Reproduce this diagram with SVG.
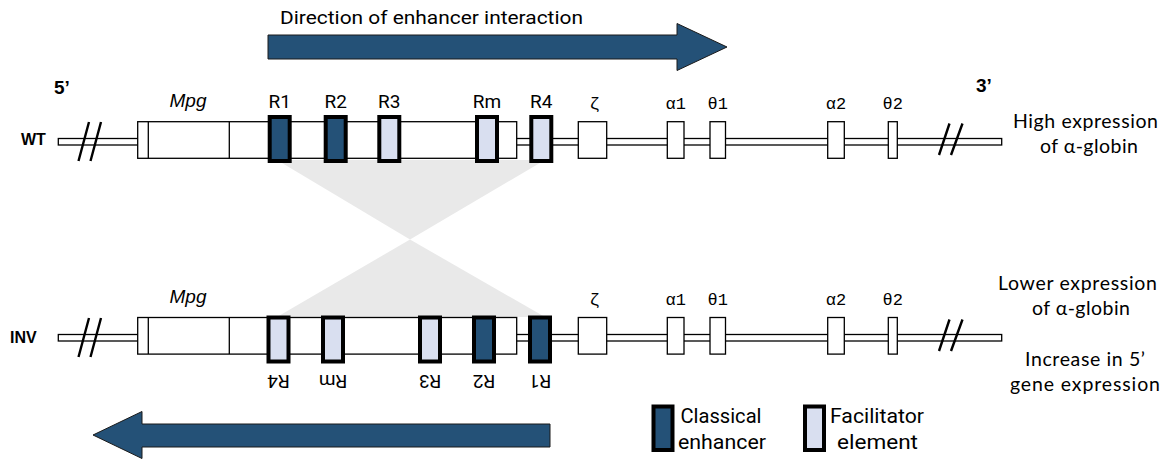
<svg xmlns="http://www.w3.org/2000/svg" width="1167" height="459" viewBox="0 0 1167 459">
<style>
.bb{fill:#fff;stroke:#000;stroke-width:1.3}
.bx{fill:#fff;stroke:#000;stroke-width:1.3}
.ln{stroke:#000;stroke-width:1.3}
.cl{fill:#245177;stroke:#000;stroke-width:4}
.fa{fill:#d9dff0;stroke:#000;stroke-width:4}
.sl{stroke:#000;stroke-width:2.4;fill:none}
.arr{fill:#245177;stroke:#1a1a1a;stroke-width:1}
.shade{fill:#e9e9e9}
.rl{font-family:Roboto,"Liberation Sans",sans-serif;font-size:19px;fill:#000;text-anchor:middle}
.gl{font-family:"Liberation Mono","DejaVu Sans Mono",monospace;font-size:17px;fill:#000;text-anchor:middle}
.mpg{font-family:"Liberation Sans",sans-serif;font-style:italic;font-size:19px;fill:#000;text-anchor:middle}
.bd{font-family:"Liberation Sans",sans-serif;font-weight:bold;font-size:16px;fill:#000}
.pr{font-family:"Liberation Sans",sans-serif;font-weight:bold;font-size:19px;fill:#000}
.ex{font-family:Lato,"Liberation Sans",sans-serif;font-size:19.5px;fill:#000;text-anchor:middle}
.lg{font-family:Roboto,"Liberation Sans",sans-serif;font-size:20px;fill:#000;text-anchor:middle}
.ti{font-family:Roboto,"Liberation Sans",sans-serif;font-size:19px;fill:#000}
</style>

<g id="connectors">
  <polygon class="shade" points="277,160 545,160 410,239.5"/>
  <polygon class="shade" points="410,239.5 277,317 545,317"/>
</g>

<g id="top-arrow">
  <path class="arr" d="M268,35 H677 V23.5 L727,47 L677,70.5 V59 H268 Z"/>
  <text class="ti" x="280" y="24" textLength="303" lengthAdjust="spacingAndGlyphs">Direction of enhancer interaction</text>
</g>

<g id="wt-row">
  <text class="pr" x="54" y="94">5’</text>
  <text class="pr" x="976" y="92">3’</text>
  <text class="bd" x="21" y="145">WT</text>
  <rect class="bb" x="58.3" y="138.5" width="943.4" height="6.5"/>
  <path class="sl" d="M78.5,161 L89,122 M90.5,161 L101,122"/>
  <path class="sl" d="M939,155 L949.5,123.5 M951,155 L962.5,123.5"/>
  <g id="wt-mpg">
    <rect class="bx" x="137.7" y="121.7" width="379" height="36.6"/>
    <line class="ln" x1="148.3" y1="121.7" x2="148.3" y2="158.3"/>
    <line class="ln" x1="229.3" y1="121.7" x2="229.3" y2="158.3"/>
    <text class="mpg" x="188" y="107">Mpg</text>
  </g>
  <g id="wt-R1"><rect class="cl" x="269.7" y="117" width="20" height="44"/><text class="rl" x="279.7" y="108">R1</text></g>
  <g id="wt-R2"><rect class="cl" x="325.7" y="117" width="20" height="44"/><text class="rl" x="335.7" y="108">R2</text></g>
  <g id="wt-R3"><rect class="fa" x="379.3" y="117" width="20" height="44"/><text class="rl" x="389.3" y="108">R3</text></g>
  <g id="wt-Rm"><rect class="fa" x="477" y="117" width="20" height="44"/><text class="rl" x="487" y="108">Rm</text></g>
  <g id="wt-R4"><rect class="fa" x="531.3" y="117" width="20" height="44"/><text class="rl" x="541.3" y="108">R4</text></g>
  <g id="wt-zeta"><rect class="bx" x="578.3" y="121.7" width="28.4" height="36.6"/><text class="gl" x="594.5" y="109">ζ</text></g>
  <g id="wt-a1"><rect class="bx" x="667.3" y="121.7" width="16.7" height="36.6"/><text class="gl" x="675.7" y="109">α1</text></g>
  <g id="wt-t1"><rect class="bx" x="710" y="121.7" width="15.5" height="36.6"/><text class="gl" x="717.7" y="109">θ1</text></g>
  <g id="wt-a2"><rect class="bx" x="827.7" y="121.7" width="16.6" height="36.6"/><text class="gl" x="836" y="109">α2</text></g>
  <g id="wt-t2"><rect class="bx" x="888.3" y="121.7" width="9" height="36.6"/><text class="gl" x="892.8" y="109">θ2</text></g>
  <g id="wt-label">
    <text class="ex" x="1085.5" y="128" textLength="145">High expression</text>
    <text class="ex" x="1089" y="153" textLength="98">of α-globin</text>
  </g>
</g>

<g id="inv-row">
  <text class="bd" x="10" y="343">INV</text>
  <rect class="bb" x="58.3" y="334.5" width="943.4" height="6.5"/>
  <path class="sl" d="M78.5,357 L89,318 M90.5,357 L101,318"/>
  <path class="sl" d="M939,351 L949.5,319.5 M951,351 L962.5,319.5"/>
  <g id="inv-mpg">
    <rect class="bx" x="137.7" y="317.5" width="379" height="36.6"/>
    <line class="ln" x1="148.3" y1="317.5" x2="148.3" y2="354.1"/>
    <line class="ln" x1="229.3" y1="317.5" x2="229.3" y2="354.1"/>
    <text class="mpg" x="188" y="303">Mpg</text>
  </g>
  <g id="inv-R4"><rect class="fa" x="268.5" y="317.5" width="20" height="44"/><text class="rl" x="278.5" y="389" transform="rotate(180 278.5 382)">R4</text></g>
  <g id="inv-Rm"><rect class="fa" x="323" y="317.5" width="20" height="44"/><text class="rl" x="333" y="389" transform="rotate(180 333 382)">Rm</text></g>
  <g id="inv-R3"><rect class="fa" x="420" y="317.5" width="20" height="44"/><text class="rl" x="430" y="389" transform="rotate(180 430 382)">R3</text></g>
  <g id="inv-R2"><rect class="cl" x="474" y="317.5" width="20" height="44"/><text class="rl" x="484" y="389" transform="rotate(180 484 382)">R2</text></g>
  <g id="inv-R1"><rect class="cl" x="530" y="317.5" width="20" height="44"/><text class="rl" x="540" y="389" transform="rotate(180 540 382)">R1</text></g>
  <g id="inv-zeta"><rect class="bx" x="578.3" y="317.5" width="28.4" height="36.6"/><text class="gl" x="594.5" y="305">ζ</text></g>
  <g id="inv-a1"><rect class="bx" x="667.3" y="317.5" width="16.7" height="36.6"/><text class="gl" x="675.7" y="305">α1</text></g>
  <g id="inv-t1"><rect class="bx" x="710" y="317.5" width="15.5" height="36.6"/><text class="gl" x="717.7" y="305">θ1</text></g>
  <g id="inv-a2"><rect class="bx" x="827.7" y="317.5" width="16.6" height="36.6"/><text class="gl" x="836" y="305">α2</text></g>
  <g id="inv-t2"><rect class="bx" x="888.3" y="317.5" width="9" height="36.6"/><text class="gl" x="892.8" y="305">θ2</text></g>
  <g id="inv-label">
    <text class="ex" x="1077.5" y="290" textLength="159">Lower expression</text>
    <text class="ex" x="1081" y="315" textLength="98">of α-globin</text>
    <text class="ex" x="1085" y="366" textLength="120">Increase in 5’</text>
    <text class="ex" x="1085" y="391" textLength="150">gene expression</text>
  </g>
</g>

<g id="bottom-arrow">
  <path class="arr" d="M550,424 H142 V411.5 L93,435 L142,458.5 V447 H550 Z"/>
</g>

<g id="legend-classical">
  <rect class="cl" x="653.5" y="406.5" width="19" height="43.5"/>
  <text class="lg" x="721" y="423" textLength="81" lengthAdjust="spacingAndGlyphs">Classical</text>
  <text class="lg" x="722" y="449" textLength="88" lengthAdjust="spacingAndGlyphs">enhancer</text>
</g>
<g id="legend-facilitator">
  <rect class="fa" x="805" y="406.5" width="19" height="43.5"/>
  <text class="lg" x="877" y="423" textLength="94" lengthAdjust="spacingAndGlyphs">Facilitator</text>
  <text class="lg" x="877.5" y="449" textLength="81" lengthAdjust="spacingAndGlyphs">element</text>
</g>
</svg>
